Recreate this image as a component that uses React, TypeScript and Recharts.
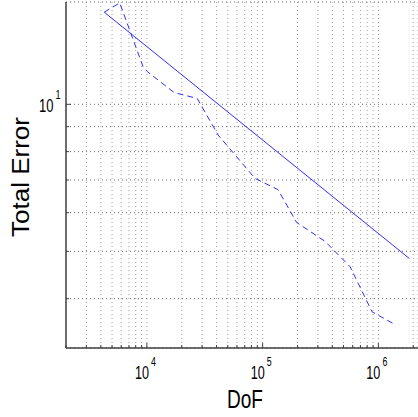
import React from 'react';
import { LineChart, Line, XAxis, YAxis, CartesianGrid } from 'recharts';

// Reference slope line (solid)
const refDof = [4280, 1853000];
const refErr = [15.44, 4.834];

// Adaptive refinement curve (dashed)
const adaptDof = [4280, 5824, 9290, 10060, 17210, 27190, 41270, 86130, 135600, 196700, 346500, 569700, 882000, 1393000];
const adaptErr = [15.44, 16.13, 11.92, 11.67, 10.57, 10.28, 8.65, 7.05, 6.69, 5.73, 5.24, 4.65, 3.76, 3.54];

// Axis ticks (log grid)
const dofTicks = [
  2000, 3000, 4000, 5000, 6000, 7000, 8000, 9000,
  10000, 20000, 30000, 40000, 50000, 60000, 70000, 80000, 90000,
  100000, 200000, 300000, 400000, 500000, 600000, 700000, 800000, 900000,
  1000000, 2000000,
];
const errTicks = [4, 5, 6, 7, 8, 9, 10];
const dofDomain = [2000, 2200000];
const errDomain = [3.17, 16.2];

const refData = refDof.map((x, i) => ({ x, y: refErr[i] }));
const adaptData = adaptDof.map((x, i) => ({ x, y: adaptErr[i] }));

const FONT = '"Liberation Sans", Arial, Helvetica, sans-serif';
const AXIS = '#404040';

const isDecade = (v: number) => {
  const l = Math.log10(v);
  return Math.abs(l - Math.round(l)) < 1e-6;
};

const PowerLabel = ({ x, y, exp, size }: { x: number; y: number; exp: number; size: number }) => (
  <text
    transform={`translate(${x},${y}) scale(0.72,1)`}
    fontSize={size}
    fontFamily={FONT}
    fill="#000"
  >
    10
    <tspan dx={3} dy={-Math.round(size * 0.72)} fontSize={size * 0.7}>{exp}</tspan>
  </text>
);

const XTick = (props: any) => {
  const { x, y, payload } = props;
  const v = payload.value as number;
  const major = isDecade(v);
  const exp = Math.round(Math.log10(v));
  return (
    <g>
      <line x1={x} x2={x} y1={y} y2={y - (major ? 5 : 3)} stroke={AXIS} strokeWidth={1} />
      {major && <PowerLabel x={x - 12} y={y + 31} exp={exp} size={17.5} />}
    </g>
  );
};

const YTick = (props: any) => {
  const { x, y, payload } = props;
  const v = payload.value as number;
  const major = isDecade(v);
  const exp = Math.round(Math.log10(v));
  return (
    <g>
      <line x1={x} x2={x + (major ? 5 : 3)} y1={y} y2={y} stroke={AXIS} strokeWidth={1} />
      {major && <PowerLabel x={x - 27} y={y + 8} exp={exp} size={18} />}
    </g>
  );
};

export default function App() {
  return (
    <div style={{ position: 'absolute', left: 0, top: 0, width: 418, height: 417, background: '#fff' }}>
      <LineChart width={418} height={417} margin={{ top: 2, right: 0, bottom: 0, left: 0 }}>
        <CartesianGrid horizontal={false} stroke="#a0a0a0" strokeDasharray="1 3" />
        <CartesianGrid vertical={false} stroke="#666" strokeDasharray="1 3" />
        <XAxis
          dataKey="x"
          type="number"
          scale="log"
          domain={dofDomain}
          allowDataOverflow
          ticks={dofTicks}
          interval={0}
          height={69}
          tickSize={0}
          tickMargin={0}
          tickLine={false}
          axisLine={{ stroke: AXIS, strokeWidth: 1.5 }}
          tick={<XTick />}
        />
        <YAxis
          dataKey="y"
          type="number"
          scale="log"
          domain={errDomain}
          allowDataOverflow
          ticks={errTicks}
          interval={0}
          width={66}
          tickSize={0}
          tickMargin={0}
          tickLine={false}
          axisLine={{ stroke: AXIS, strokeWidth: 1.5 }}
          tick={<YTick />}
        />
        <Line data={refData} dataKey="y" type="linear" stroke="#2e2eff" strokeWidth={1} dot={false} isAnimationActive={false} />
        <Line data={adaptData} dataKey="y" type="linear" stroke="#2e2eff" strokeWidth={1} strokeDasharray="6 4" dot={false} isAnimationActive={false} />
        <text x={245} y={408} textAnchor="middle" fontSize={25} fontFamily={FONT} fill="#000" textLength={36} lengthAdjust="spacingAndGlyphs">DoF</text>
        <text x={29} y={177} textAnchor="middle" fontSize={23} fontFamily={FONT} fill="#000" transform="rotate(-90 29 177)" textLength={120} lengthAdjust="spacingAndGlyphs">Total Error</text>
      </LineChart>
    </div>
  );
}
